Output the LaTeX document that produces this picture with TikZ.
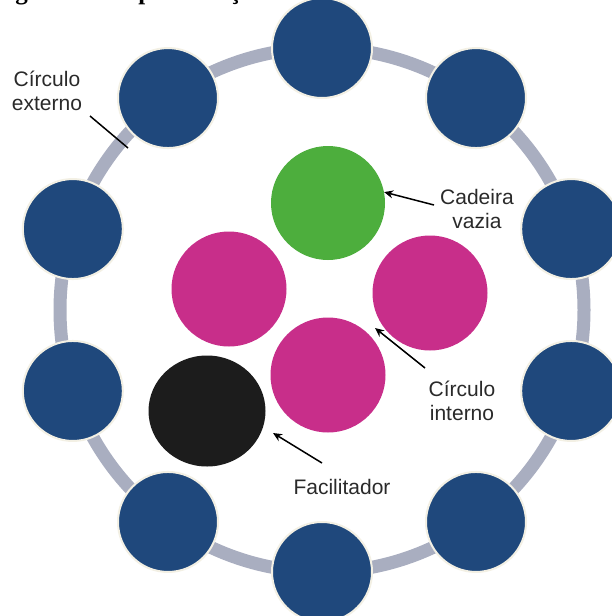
\documentclass[tikz,border=0pt]{standalone}
\usepackage{fontspec}
\setmainfont{Liberation Sans}
\newfontfamily\capfont{Liberation Serif}
\usetikzlibrary{arrows.meta,calc,shapes.geometric}
\definecolor{seatblue}{HTML}{1F487C}
\definecolor{seatrim}{HTML}{F3F0E4}
\definecolor{ringgray}{HTML}{A9AEC0}
\definecolor{emptygreen}{HTML}{4DAE3D}
\definecolor{innermag}{HTML}{C82E8A}
\definecolor{facblack}{HTML}{1C1C1C}
\definecolor{labelgray}{HTML}{2A2A2A}
\tikzset{
  outerseat/.style={circle, minimum size=100pt, inner sep=0pt, fill=seatblue, draw=seatrim, line width=2pt},
  innerseat/.style={circle, minimum size=115pt, inner sep=0pt},
  ringline/.style={draw=ringgray, line width=13pt},
  lbl/.style={font=\fontsize{21}{24}\selectfont, text=labelgray, align=center, inner sep=0pt},
  pointer/.style={draw=black, line width=1.5pt, -{Stealth[length=9pt,width=8pt]}},
  leader/.style={draw=black, line width=1.5pt}
}
\begin{document}
\begin{tikzpicture}[x=1pt,y=-1pt]
\useasboundingbox (0,0) rectangle (612,616);
\clip (0,0) rectangle (612,616);
\fill[white] (0,0) rectangle (612,616);
% cut-off caption at the top
\node[anchor=base west, inner sep=0pt, font=\capfont\bfseries\fontsize{25}{30}\selectfont] (caption) at (-7,-1) {Figura 3 – Representação do fishbowl};
% outer ring
\coordinate (ctr) at (322,310);
\draw[ringline] (ctr) circle[radius=262pt];
\foreach \i in {0,...,9} {
  \pgfmathsetmacro\ang{90-36*\i}
  \node[outerseat] (o\i) at ({322+262*cos(\ang)},{310-262*sin(\ang)}) {};
}
% inner circle
\node[innerseat, fill=emptygreen, minimum size=114pt] (green) at (328,203) {};
\node[innerseat, fill=innermag] (magL) at (229,289) {};
\node[innerseat, fill=innermag] (magR) at (430,293) {};
\node[innerseat, fill=innermag] (magB) at (328,375) {};
\node[ellipse, inner sep=0pt, minimum width=117pt, minimum height=111pt, fill=facblack] (fac) at (207,411) {};
% labels (base anchor = baseline of the last line)
\node[lbl, anchor=base] (lext) at (47,110) {Círculo\\externo};
\node[lbl, anchor=base] (lcad) at (477,228) {Cadeira\\vazia};
\node[lbl, anchor=base] (lint) at (462,420) {Círculo\\interno};
\node[lbl, anchor=base] (lfac) at (342,494) {Facilitador};
% connectors
\coordinate (extA) at (90,116);
\coordinate (extB) at (128,148);
\draw[leader] (extA) -- (extB);
\coordinate (cadT) at (434,205);
\draw[pointer] (cadT) -- (green.11);
\coordinate (intT) at (425,368);
\coordinate (intH) at (375,328);
\draw[pointer] (intT) -- (intH);
\coordinate (facT) at (322,463);
\coordinate (facH) at (273,433);
\draw[pointer] (facT) -- (facH);
\end{tikzpicture}
\end{document}
